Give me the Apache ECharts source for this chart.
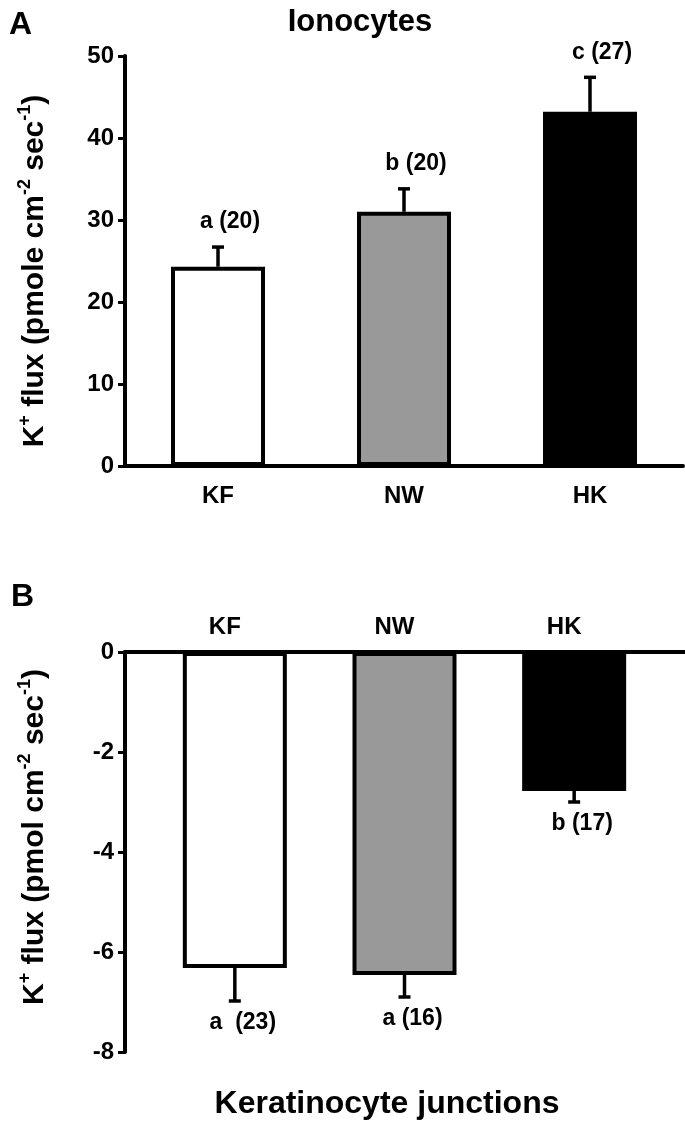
<!DOCTYPE html>
<html><head><meta charset="utf-8">
<script src="https://cdn.jsdelivr.net/npm/echarts@6/dist/echarts.min.js"></script>
<style>html,body{margin:0;padding:0;background:#fff}#c{width:685px;height:1125px}</style>
</head><body><div id="c"></div>
<script>
const categories = ['KF', 'NW', 'HK'];
const ionoMean = [24.3, 31.0, 43.2];
const ionoSE = [2.4, 2.8, 4.2];
const ionoLabels = ['a (20)', 'b (20)', 'c (27)'];
const kerMean = [-6.32, -6.46, -2.78];
const kerSE = [0.66, 0.44, 0.22];
const kerLabels = ['a  (23)', 'a (16)', 'b (17)'];
const barColors = ['#ffffff', '#999999', '#000000'];

const FF = 'Liberation Sans, Arial, Helvetica, sans-serif';
const chart = echarts.init(document.getElementById('c'), null, {renderer: 'canvas'});

function richName(unit) {
  return '{m|K}{s|+}{m| flux (' + unit + ' cm}{s|-2}{m| sec}{s|-1}{m|)}';
}
const nameRich = {
  m: {fontSize: 30, fontWeight: 'bold', fontFamily: FF, color: '#000'},
  s: {fontSize: 18, fontWeight: 'bold', fontFamily: FF, color: '#000', padding: [0, 0, 19, 0]}
};

function errRender(dir, labels, labelDx, labelDy) {
  return function (params, api) {
    const i = api.value(0), m = api.value(1), se = api.value(2);
    const base = api.coord([i, m]);
    const end = api.coord([i, m + dir * se]);
    const cap = 6;
    return {
      type: 'group',
      children: [
        {type: 'line', shape: {x1: base[0], y1: base[1], x2: end[0], y2: end[1]}, style: {stroke: '#000', lineWidth: 3.5}},
        {type: 'line', shape: {x1: end[0] - cap, y1: end[1], x2: end[0] + cap, y2: end[1]}, style: {stroke: '#000', lineWidth: 3.5}},
        {type: 'text', style: {text: labels[params.dataIndex], x: end[0] + labelDx, y: end[1] + labelDy, align: 'center', verticalAlign: 'middle', font: 'bold 23px ' + FF, fill: '#000'}}
      ]
    };
  };
}

const ionoBarData = ionoMean.map((v, i) => ({value: v, itemStyle: {color: barColors[i]}}));
const kerBarData = kerMean.map((v, i) => ({value: v, itemStyle: {color: barColors[i]}}));
const ionoErrData = ionoMean.map((v, i) => [i, v, ionoSE[i]]);
const kerErrData = kerMean.map((v, i) => [i, v, kerSE[i]]);

const axisLineStyle = {show: true, lineStyle: {color: '#000', width: 4}};
const tickStyle = {show: true, length: 7, lineStyle: {color: '#000', width: 3}};
const tickLabel = {fontSize: 24, fontWeight: 'bold', fontFamily: FF, color: '#000', margin: 11};
const catLabelA = {fontSize: 24, fontWeight: 'bold', fontFamily: FF, color: '#000', margin: 18};
const catLabelB = {fontSize: 24, fontWeight: 'bold', fontFamily: FF, color: '#000', margin: 13, padding: [0, 20, 0, 0]};

chart.setOption({
  animation: false,
  backgroundColor: '#fff',
  title: [
    {text: 'A', left: 4, top: 4, textStyle: {fontSize: 32, fontWeight: 'bold', fontFamily: FF, color: '#000'}},
    {text: 'Ionocytes', left: 355, textAlign: 'center', top: 2, textStyle: {fontSize: 31, fontWeight: 'bold', fontFamily: FF, color: '#000'}},
    {text: 'B', left: 6, top: 576, textStyle: {fontSize: 32, fontWeight: 'bold', fontFamily: FF, color: '#000'}},
    {text: 'Keratinocyte junctions', left: 382, textAlign: 'center', top: 1083, textStyle: {fontSize: 32, fontWeight: 'bold', fontFamily: FF, color: '#000'}}
  ],
  grid: [
    {left: 125, top: 56, width: 558, height: 410},
    {left: 125, top: 652, width: 560, height: 400},
    {left: 150, top: 652, width: 509, height: 400}
  ],
  xAxis: [
    {type: 'category', gridIndex: 0, data: categories, axisLine: axisLineStyle, axisTick: {show: false}, axisLabel: catLabelA},
    {type: 'category', gridIndex: 1, data: categories, position: 'top', axisLine: axisLineStyle, axisTick: {show: false}, axisLabel: {show: false}},
    {type: 'category', gridIndex: 2, data: categories, position: 'top', axisLine: {show: false}, axisTick: {show: false}, axisLabel: catLabelB}
  ],
  yAxis: [
    {type: 'value', gridIndex: 0, min: 0, max: 50, interval: 10, axisLine: axisLineStyle, axisTick: tickStyle, axisLabel: tickLabel, splitLine: {show: false},
     name: richName('pmole'), nameLocation: 'middle', nameRotate: 90, nameGap: 72, nameTextStyle: {rich: nameRich, padding: [0, 20, 0, 0]}},
    {type: 'value', gridIndex: 1, min: -8, max: 0, interval: 2, axisLine: axisLineStyle, axisTick: tickStyle, axisLabel: tickLabel, splitLine: {show: false},
     name: richName('pmol'), nameLocation: 'middle', nameRotate: 90, nameGap: 72, nameTextStyle: {rich: nameRich, padding: [0, 0, 0, 30]}},
    {type: 'value', gridIndex: 2, min: -8, max: 0, show: false}
  ],
  series: [
    {type: 'bar', xAxisIndex: 0, yAxisIndex: 0, barWidth: 94, data: ionoBarData, itemStyle: {borderColor: '#000', borderWidth: 4}, z: 2},
    {type: 'custom', xAxisIndex: 0, yAxisIndex: 0, data: ionoErrData, renderItem: errRender(1, ionoLabels, 12, -25), z: 3},
    {type: 'bar', xAxisIndex: 2, yAxisIndex: 2, barWidth: 104, data: kerBarData, itemStyle: {borderColor: '#000', borderWidth: 4}, z: 2},
    {type: 'custom', xAxisIndex: 2, yAxisIndex: 2, data: kerErrData, renderItem: errRender(-1, kerLabels, 8, 22), z: 3}
  ]
});
</script></body></html>
